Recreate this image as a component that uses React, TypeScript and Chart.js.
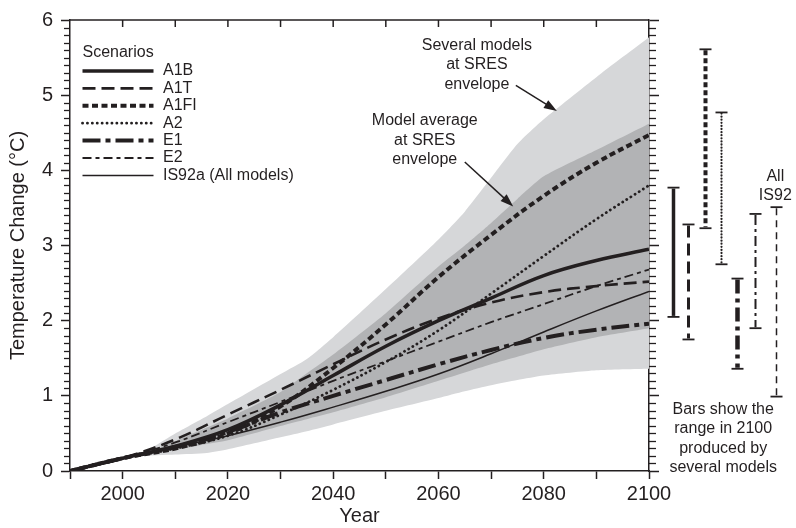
import React, { useEffect, useRef } from "react";
import { Chart, registerables } from "chart.js";

Chart.register(...registerables);

const FONT = '"Liberation Sans", Arial, Helvetica, sans-serif';
const INK = "#231f20";
const LIGHT = "#d6d7d9";
const DARK = "#b2b3b5";

// Scenario curves (°C), sampled every 10 years
const YEARS = [1990, 2000, 2010, 2020, 2030, 2040, 2050, 2060, 2070, 2080, 2090, 2100];
const A1B = [0, 0.17, 0.33, 0.55, 0.88, 1.27, 1.66, 2.0, 2.3, 2.6, 2.8, 2.95];
const A1T = [0, 0.17, 0.42, 0.75, 1.08, 1.42, 1.75, 2.03, 2.24, 2.38, 2.46, 2.52];
const A1FI = [0, 0.17, 0.3, 0.5, 0.86, 1.37, 1.95, 2.58, 3.14, 3.66, 4.1, 4.47];
const A2 = [0, 0.17, 0.3, 0.47, 0.75, 1.08, 1.45, 1.87, 2.36, 2.86, 3.35, 3.8];
const E1 = [0, 0.17, 0.32, 0.52, 0.78, 1.0, 1.21, 1.42, 1.61, 1.77, 1.88, 1.96];
const E2 = [0, 0.17, 0.38, 0.65, 0.92, 1.2, 1.46, 1.72, 1.98, 2.22, 2.46, 2.68];
const IS92A = [0, 0.17, 0.32, 0.47, 0.65, 0.85, 1.06, 1.29, 1.56, 1.85, 2.13, 2.39];

const SCENARIO_LABELS = ["A1B", "A1T", "A1FI", "A2", "E1", "E2", "IS92a (All models)"];
const SCENARIO_VALUES = [A1B, A1T, A1FI, A2, E1, E2, IS92A];

// Envelopes
const ENV_YEARS = [1990, 2000, 2003, 2010, 2016, 2020, 2030, 2035, 2040, 2050, 2060, 2065, 2070, 2075, 2080, 2090, 2100];
const LIGHT_UP = [0, 0.17, 0.21, 0.5, 0.73, 0.89, 1.29, 1.49, 1.78, 2.42, 3.08, 3.45, 3.9, 4.35, 4.68, 5.24, 5.77];
const LIGHT_LO = [0, 0.17, 0.2, 0.22, 0.24, 0.29, 0.45, 0.53, 0.62, 0.8, 0.97, 1.06, 1.14, 1.21, 1.27, 1.34, 1.36];
const DARK_UP = [0, 0.17, 0.2, 0.4, 0.58, 0.7, 1.05, 1.3, 1.55, 2.1, 2.72, 3.0, 3.3, 3.62, 3.92, 4.27, 4.62];
const DARK_LO = [0, 0.17, 0.2, 0.28, 0.36, 0.41, 0.6, 0.69, 0.78, 0.98, 1.2, 1.31, 1.42, 1.52, 1.62, 1.78, 1.9];

// Range in 2100 bars (A1B, A1T, A1FI, A2, E1, E2, All IS92)
const BAR_LOW = [2.05, 1.75, 3.23, 2.75, 1.36, 1.9, 0.99];
const BAR_HIGH = [3.77, 3.28, 5.61, 4.77, 2.56, 3.42, 3.51];

// Styles / layout
const LINE_STYLES = [
  { w: 3.5, dash: [] as number[], cap: "butt" },
  { w: 2.6, dash: [13, 6], cap: "butt" },
  { w: 4, dash: [6, 3.5], cap: "butt" },
  { w: 2.8, dash: [0.1, 4.8], cap: "round" },
  { w: 4, dash: [18, 5, 5, 5], cap: "butt" },
  { w: 1.8, dash: [9, 4, 4, 4], cap: "butt" },
  { w: 1.5, dash: [] as number[], cap: "butt" },
];
const BAR_STYLES = [
  { w: 3.5, dash: [] as number[], cap: "butt" },
  { w: 3, dash: [12, 6], cap: "butt" },
  { w: 4, dash: [5, 3], cap: "butt" },
  { w: 2.2, dash: [0.1, 3], cap: "round" },
  { w: 4.5, dash: [14, 5, 4, 5], cap: "butt" },
  { w: 2, dash: [10, 4, 3, 4], cap: "butt" },
  { w: 1.5, dash: [7, 5], cap: "butt" },
];
const BAR_OFFSETS = [23.5, 38.5, 56, 72.3, 88.3, 106, 127];

const pts = (xs: number[], ys: number[]) => xs.map((x, i) => ({ x, y: ys[i] }));

const decorPlugin = {
  id: "decor",
  afterDraw(chart: any) {
    const { ctx, chartArea: ca, scales } = chart;
    const x = scales.x;
    const y = scales.y;
    const line = (x1: number, y1: number, x2: number, y2: number) => {
      ctx.beginPath();
      ctx.moveTo(x1, y1);
      ctx.lineTo(x2, y2);
      ctx.stroke();
    };
    ctx.save();
    ctx.strokeStyle = INK;
    ctx.fillStyle = INK;
    ctx.lineWidth = 1.3;
    ctx.setLineDash([]);
    // minor ticks on left and right axes
    for (let i = 0; i <= 60; i++) {
      if (i % 10 === 0) continue;
      const py = Math.round(y.getPixelForValue(i / 10)) + 0.5;
      line(ca.left - 6, py, ca.left, py);
      line(ca.right, py, ca.right + 7, py);
    }
    // top frame with inward ticks
    ctx.lineWidth = 1.5;
    line(ca.left, ca.top, ca.right, ca.top);
    for (let yr = 2000; yr < 2100; yr += 10) {
      const px = x.getPixelForValue(yr);
      line(px, ca.top, px, ca.top + 7);
    }

    // legend
    ctx.font = `16px ${FONT}`;
    ctx.textBaseline = "middle";
    ctx.textAlign = "left";
    const lx = ca.left + 12.5;
    ctx.fillText("Scenarios", lx, ca.top + 33);
    SCENARIO_LABELS.forEach((lab, i) => {
      const ly = ca.top + 51 + i * 17.4;
      const st = LINE_STYLES[i];
      ctx.lineWidth = st.w;
      ctx.setLineDash(st.dash);
      ctx.lineCap = st.cap;
      line(lx, ly, lx + 71, ly);
      ctx.setLineDash([]);
      ctx.lineCap = "butt";
      ctx.fillText(lab, lx + 80.5, ly);
    });

    // annotations
    ctx.textAlign = "center";
    const block = (lines: string[], yr: number, val: number) => {
      const cx = x.getPixelForValue(yr);
      const cy = y.getPixelForValue(val);
      lines.forEach((t, i) => ctx.fillText(t, cx, cy + i * 19.4));
    };
    block(["Several models", "at SRES", "envelope"], 2067.3, 5.66);
    block(["Model average", "at SRES", "envelope"], 2057.4, 4.66);
    block(["All", "IS92"], 2124, 3.92);
    block(["Bars show the", "range in 2100", "produced by", "several models"], 2114.1, 0.82);

    const arrow = (y1: number, v1: number, y2: number, v2: number) => {
      const x1 = x.getPixelForValue(y1), py1 = y.getPixelForValue(v1);
      const x2 = x.getPixelForValue(y2), py2 = y.getPixelForValue(v2);
      const ang = Math.atan2(py2 - py1, x2 - x1);
      const hl = 13, hw = 4.5;
      ctx.lineWidth = 1.5;
      const bx = x2 - Math.cos(ang) * hl * 0.8;
      const by = py2 - Math.sin(ang) * hl * 0.8;
      line(x1, py1, bx, by);
      ctx.beginPath();
      ctx.moveTo(x2, py2);
      ctx.lineTo(x2 - Math.cos(ang) * hl - Math.sin(ang) * hw, py2 - Math.sin(ang) * hl + Math.cos(ang) * hw);
      ctx.lineTo(x2 - Math.cos(ang) * hl + Math.sin(ang) * hw, py2 - Math.sin(ang) * hl - Math.cos(ang) * hw);
      ctx.closePath();
      ctx.fill();
    };
    arrow(2074.7, 5.13, 2082.5, 4.79);
    arrow(2065.0, 4.11, 2074.2, 3.52);

    // range bars in 2100
    BAR_LOW.forEach((lo, i) => {
      const px = Math.round(ca.right + BAR_OFFSETS[i]) + 0.5;
      const top = y.getPixelForValue(BAR_HIGH[i]);
      const bot = y.getPixelForValue(lo);
      const st = BAR_STYLES[i];
      ctx.lineWidth = st.w;
      ctx.setLineDash(st.dash);
      ctx.lineCap = st.cap;
      line(px, top + 1, px, bot - 1);
      ctx.setLineDash([]);
      ctx.lineCap = "butt";
      ctx.lineWidth = 1.8;
      line(px - 6, top, px + 6, top);
      line(px - 6, bot, px + 6, bot);
    });
    ctx.restore();
  },
};

export default function App() {
  const ref = useRef<HTMLCanvasElement | null>(null);
  useEffect(() => {
    if (!ref.current) return;
    const envelope = (data: number[], fill: any, color: string, order: number) => ({
      label: "",
      data: pts(ENV_YEARS, data),
      fill,
      backgroundColor: color,
      borderColor: "rgba(0,0,0,0)",
      borderWidth: 0,
      pointRadius: 0,
      tension: 0.2,
      order,
    });
    const datasets: any[] = [
      envelope(LIGHT_UP, "+1", LIGHT, 40),
      envelope(LIGHT_LO, false, LIGHT, 39),
      envelope(DARK_UP, "+1", DARK, 38),
      envelope(DARK_LO, false, DARK, 37),
      ...SCENARIO_VALUES.map((vals, i) => ({
        label: SCENARIO_LABELS[i],
        data: pts(YEARS, vals),
        fill: false,
        borderColor: INK,
        borderWidth: LINE_STYLES[i].w,
        borderDash: LINE_STYLES[i].dash,
        borderCapStyle: LINE_STYLES[i].cap,
        pointRadius: 0,
        tension: 0.4,
        order: 10 + i,
      })),
    ];
    const tickFont = { family: FONT, size: 20 };
    const chart = new Chart(ref.current, {
      type: "line",
      data: { datasets },
      options: {
        responsive: false,
        animation: false,
        devicePixelRatio: 1,
        layout: { padding: { top: 17, left: 0, right: 0, bottom: 0 } },
        plugins: { legend: { display: false }, tooltip: { enabled: false } },
        scales: {
          x: {
            type: "linear",
            position: "bottom",
            min: 1990,
            max: 2100,
            ticks: {
              stepSize: 10,
              autoSkip: false,
              maxRotation: 0,
              color: INK,
              font: tickFont,
              padding: 3,
              callback: (v: any) => (Number(v) % 20 === 0 ? String(v) : ""),
            },
            grid: { drawOnChartArea: false, drawTicks: true, tickLength: 8, tickColor: INK, tickWidth: 1.5 },
            border: { display: true, color: INK, width: 1.5 },
            title: { display: true, text: "Year", color: INK, font: tickFont, padding: 0 },
            afterFit: (s: any) => {
              s.height = 57;
            },
          },
          y: {
            position: "left",
            min: 0,
            max: 6,
            ticks: { stepSize: 1, color: INK, font: tickFont, padding: 8 },
            grid: { drawOnChartArea: false, drawTicks: true, tickLength: 9, tickColor: INK, tickWidth: 1.5 },
            border: { display: true, color: INK, width: 1.5 },
            title: { display: true, text: "Temperature Change (°C)", color: INK, font: tickFont, padding: { top: 6, bottom: 0 } },
            afterFit: (s: any) => {
              s.width = 70;
            },
          },
          y2: {
            position: "right",
            min: 0,
            max: 6,
            ticks: { stepSize: 1, display: false },
            grid: { drawOnChartArea: false, drawTicks: true, tickLength: 10, tickColor: INK, tickWidth: 1.5 },
            border: { display: true, color: INK, width: 1.5 },
            afterFit: (s: any) => {
              s.width = 147;
            },
          },
        },
      } as any,
      plugins: [decorPlugin],
    });
    return () => chart.destroy();
  }, []);
  return (
    <div style={{ position: "absolute", left: 0, top: 0, width: 796, height: 528, background: "#fff" }}>
      <canvas ref={ref} width={796} height={528} />
    </div>
  );
}
